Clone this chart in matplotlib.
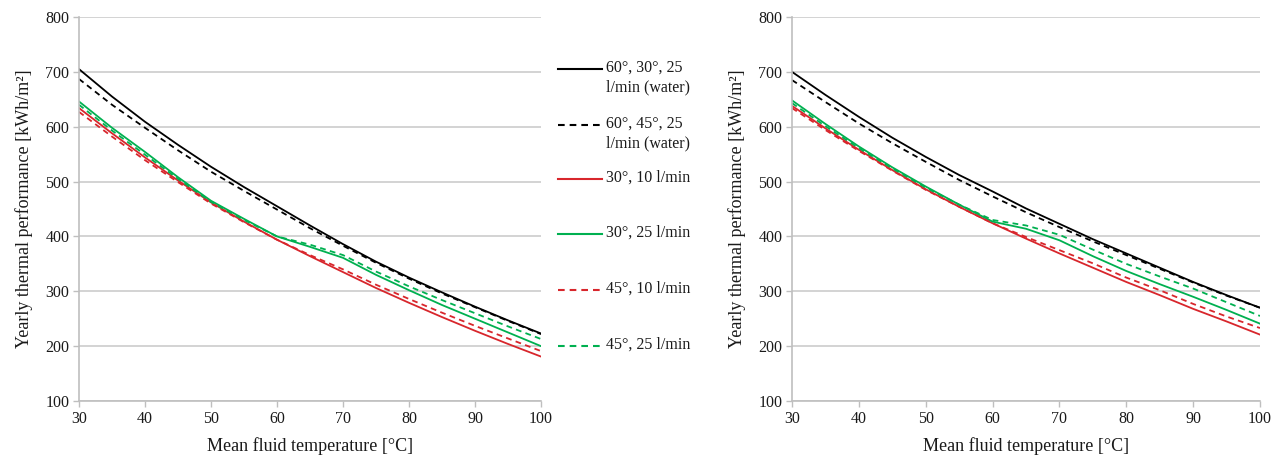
import matplotlib
matplotlib.use("Agg")
import matplotlib.pyplot as plt
from matplotlib.lines import Line2D

plt.rcParams['font.family'] = ['Liberation Serif', 'DejaVu Serif']

temps = [30, 35, 40, 45, 50, 55, 60, 65, 70, 75, 80, 85, 90, 95, 100]

labels = ["60°, 30°, 25\nl/min (water)", "60°, 45°, 25\nl/min (water)",
          "30°, 10 l/min", "30°, 25 l/min", "45°, 10 l/min", "45°, 25 l/min"]

# left chart
left_black_30 = [705, 655, 609, 567, 527, 490, 455, 420, 386, 354, 325, 298, 272, 247, 223]
left_black_45 = [687, 640, 598, 557, 518, 483, 449, 415, 383, 352, 323, 296, 271, 246, 222]
left_red_30 = [634, 588, 544, 502, 462, 427, 394, 364, 335, 306, 279, 253, 228, 204, 181]
left_green_30 = [646, 598, 554, 508, 465, 432, 400, 381, 361, 330, 302, 275, 250, 225, 200]
left_red_45 = [627, 582, 539, 499, 460, 426, 394, 366, 340, 312, 286, 261, 237, 214, 191]
left_green_45 = [640, 593, 549, 505, 463, 430, 400, 385, 366, 336, 309, 284, 260, 236, 213]

# right chart
right_black_30 = [700, 658, 618, 580, 545, 512, 482, 451, 423, 395, 369, 343, 317, 293, 270]
right_black_45 = [685, 645, 606, 570, 536, 503, 473, 444, 417, 391, 366, 341, 316, 292, 270]
right_red_30 = [638, 597, 558, 521, 486, 454, 424, 396, 369, 343, 317, 293, 268, 245, 221]
right_green_30 = [648, 605, 564, 526, 491, 458, 427, 414, 393, 364, 337, 313, 290, 266, 241]
right_red_45 = [634, 594, 556, 520, 485, 454, 424, 399, 375, 351, 325, 302, 277, 254, 233]
right_green_45 = [643, 601, 561, 524, 489, 458, 430, 420, 403, 376, 350, 327, 305, 280, 255]

BLACK = '#000000'
RED = '#d8262c'
GREEN = '#00b050'
colors = [BLACK, BLACK, RED, GREEN, RED, GREEN]
styles = ['-', '--', '-', '-', '--', '--']
DASH = (3.2, 2.4)
LW = 1.3

W, H = 1283, 462
fig = plt.figure(figsize=(W / 100, H / 100), dpi=100)

def px_ax(x0, x1, ytop, ybot):
    return [x0 / W, 1 - ybot / H, (x1 - x0) / W, (ybot - ytop) / H]

ax1 = fig.add_axes(px_ax(79, 541, 17, 401))
ax2 = fig.add_axes(px_ax(792, 1260, 17, 401))

def draw(ax, series):
    for ys, c, s in zip(series, colors, styles):
        if s == '--':
            ax.plot(temps, ys, color=c, lw=LW, linestyle=(0, DASH))
        else:
            ax.plot(temps, ys, color=c, lw=LW, linestyle='-')
    ax.set_xlim(30, 100)
    ax.set_ylim(100, 800)
    ax.set_xticks(range(30, 101, 10))
    ax.set_yticks(range(100, 801, 100))
    ax.yaxis.grid(True, color='#d0d0d0', lw=1.3)
    ax.set_axisbelow(True)
    for sp in ['top', 'right']:
        ax.spines[sp].set_visible(False)
    for sp in ['left', 'bottom']:
        ax.spines[sp].set_color('#bfbfbf')
        ax.spines[sp].set_linewidth(1.2)
    ax.tick_params(axis='both', colors='#bfbfbf', labelcolor='#1a1a1a',
                   labelsize=11.5, length=4, width=1.0)
    ax.tick_params(axis='y', pad=3)
    ax.set_xlabel("Mean fluid temperature [°C]", fontsize=13, labelpad=7, color='#1a1a1a')
    ax.set_ylabel("Yearly thermal performance [kWh/m²]", fontsize=13, labelpad=9, color='#1a1a1a')

draw(ax1, [left_black_30, left_black_45, left_red_30, left_green_30, left_red_45, left_green_45])
draw(ax2, [right_black_30, right_black_45, right_red_30, right_green_30, right_red_45, right_green_45])

# manual legend between the charts
legend_y = [69, 125, 179, 234, 290, 346]
for lab, c, s, yy in zip(labels, colors, styles, legend_y):
    yf = 1 - yy / H
    ls = (0, DASH) if s == '--' else '-'
    fig.add_artist(Line2D([558 / W, 602 / W], [yf, yf], color=c, lw=LW + 0.2, linestyle=ls,
                          transform=fig.transFigure))
    fig.text(606 / W, 1 - (yy - 9) / H, lab, fontsize=11.5, va='top', ha='left',
             color='#1a1a1a', linespacing=1.25)

fig.savefig("out.png", dpi=100)
